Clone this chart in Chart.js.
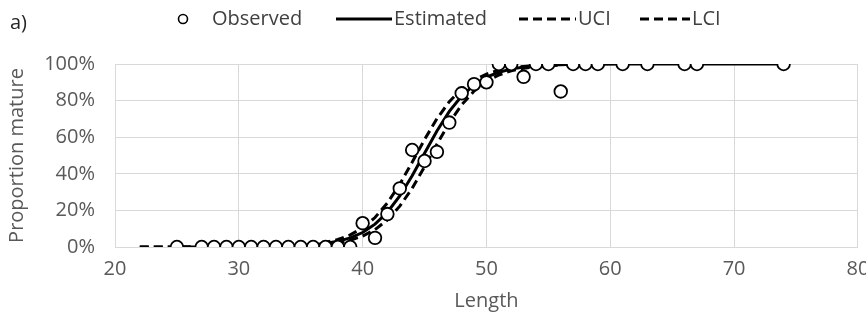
<!DOCTYPE html>
<html lang="en">
<head>
<meta charset="UTF-8">
<title>Proportion mature by length</title>
<script src="https://cdn.jsdelivr.net/npm/chart.js"></script>
<style>
  html, body { margin: 0; padding: 0; background: #fff; }
  #wrap { position: relative; width: 866px; height: 327px; }
</style>
</head>
<body>
<div id="wrap"><canvas id="maturityChart"></canvas></div>
<script>
// observed proportion mature per length class
const obsLength = [25, 27, 28, 29, 30, 31, 32, 33, 34, 35, 36, 37, 38, 39,
  40, 41, 42, 43, 44, 45, 46, 47, 48, 49, 50,
  51, 52, 53, 54, 55, 56, 57, 58, 59, 61, 63, 66, 67, 74];
const obsMature = [0, 0, 0, 0, 0, 0, 0, 0, 0, 0, 0, 0, 0, 0,
  0.13, 0.05, 0.18, 0.32, 0.53, 0.47, 0.52, 0.68, 0.84, 0.89, 0.90,
  1, 1, 0.93, 1, 1, 0.85, 1, 1, 1, 1, 1, 1, 1, 1];

// fitted ogive, read at the observed lengths
const estMature = [0, 0, 0, 0, 0.001, 0.001, 0.002, 0.003, 0.004, 0.007, 0.012, 0.019, 0.031, 0.050,
  0.079, 0.125, 0.190, 0.279, 0.389, 0.512, 0.634, 0.741, 0.825, 0.886, 0.928,
  0.955, 0.972, 0.983, 0.990, 0.994, 0.996, 0.998, 0.999, 0.999, 1, 1, 1, 1, 1];

// confidence bounds, lengths 22 to 56
const ciLength = [22, 23, 24, 25, 26, 27, 28, 29, 30, 31, 32, 33, 34, 35, 36, 37, 38, 39,
  40, 41, 42, 43, 44, 45, 46, 47, 48, 49, 50, 51, 52, 53, 54, 55, 56];
const uciMature = [0, 0, 0, 0, 0, 0, 0, 0, 0.001, 0.001, 0.002, 0.004, 0.006, 0.010, 0.016, 0.025, 0.041, 0.066,
  0.104, 0.161, 0.241, 0.343, 0.463, 0.587, 0.701, 0.794, 0.864, 0.913, 0.945, 0.966, 0.979, 0.987, 0.992, 0.995, 0.997];
const lciMature = [0, 0, 0, 0, 0, 0, 0, 0, 0, 0.001, 0.001, 0.002, 0.003, 0.005, 0.009, 0.014, 0.023, 0.037,
  0.060, 0.095, 0.148, 0.223, 0.321, 0.438, 0.562, 0.679, 0.777, 0.852, 0.905, 0.940, 0.963, 0.977, 0.986, 0.991, 0.994];

const xTicks = [20, 30, 40, 50, 60, 70, 80];
const yTicks = [0, 0.2, 0.4, 0.6, 0.8, 1];

const FONT = '"Open Sans", sans-serif';
const TEXT = '#595959';
const GRID = '#d9d9d9';

const pairs = (xs, ys) => xs.map((x, i) => ({ x: x, y: ys[i] }));

// legend across the top (symbol start, text start per entry), plus the panel tag
const legendSlots = [[183, 212], [336, 394], [519, 578], [640, 692]];

const topLegend = {
  id: 'topLegend',
  afterDraw(chart) {
    const ctx = chart.ctx;
    const y = 19;
    ctx.save();
    ctx.font = '20px ' + FONT;
    ctx.textBaseline = 'middle';
    ctx.fillStyle = '#262626';
    ctx.fillText('a)', 10, 23);

    chart.data.datasets.forEach((ds, i) => {
      const [sx, tx] = legendSlots[i];
      ctx.strokeStyle = '#000';
      if (ds.showLine === false) {
        ctx.beginPath();
        ctx.arc(sx, y, 4.5, 0, Math.PI * 2);
        ctx.fillStyle = '#fff';
        ctx.fill();
        ctx.lineWidth = 1.6;
        ctx.stroke();
      } else {
        ctx.beginPath();
        ctx.setLineDash(ds.borderDash || []);
        ctx.lineWidth = ds.borderWidth;
        ctx.moveTo(sx, y);
        ctx.lineTo(tx - 2, y);
        ctx.stroke();
        ctx.setLineDash([]);
      }
      ctx.fillStyle = '#404040';
      ctx.fillText(ds.label, tx, y);
    });
    ctx.restore();
  }
};

new Chart(document.getElementById('maturityChart'), {
  type: 'scatter',
  data: {
    datasets: [{
      label: 'Observed',
      data: pairs(obsLength, obsMature),
      showLine: false,
      pointStyle: 'circle',
      pointRadius: 6.3,
      pointBorderWidth: 1.8,
      pointBorderColor: '#000',
      pointBackgroundColor: '#fff'
    }, {
      label: 'Estimated',
      data: pairs(obsLength, estMature),
      showLine: true,
      borderColor: '#000',
      borderWidth: 3,
      pointRadius: 0,
      tension: 0
    }, {
      label: 'UCI',
      data: pairs(ciLength, uciMature),
      showLine: true,
      borderColor: '#000',
      borderWidth: 3,
      borderDash: [9, 5],
      pointRadius: 0,
      tension: 0
    }, {
      label: 'LCI',
      data: pairs(ciLength, lciMature),
      showLine: true,
      borderColor: '#000',
      borderWidth: 3,
      borderDash: [9, 5],
      pointRadius: 0,
      tension: 0
    }]
  },
  options: {
    responsive: true,
    maintainAspectRatio: false,
    animation: false,
    layout: { padding: { top: 64, right: 8, bottom: 0, left: 0 } },
    plugins: {
      legend: { display: false },
      tooltip: { enabled: false }
    },
    scales: {
      x: {
        type: 'linear',
        min: 20,
        max: 80,
        afterBuildTicks: s => { s.ticks = xTicks.map(v => ({ value: v })); },
        afterFit: s => { s.height = 80; s.paddingLeft = 0; s.paddingRight = 0; },
        ticks: { color: TEXT, font: { family: FONT, size: 20 }, padding: 10 },
        grid: { color: GRID, lineWidth: 1, drawTicks: false },
        border: { color: GRID },
        title: {
          display: true,
          text: 'Length',
          color: TEXT,
          font: { family: FONT, size: 20 },
          padding: { top: 0, bottom: 14 }
        }
      },
      y: {
        min: 0,
        max: 1,
        afterBuildTicks: s => { s.ticks = yTicks.map(v => ({ value: v })); },
        afterFit: s => { s.width = 115; s.paddingTop = 0; s.paddingBottom = 0; },
        ticks: {
          color: TEXT,
          font: { family: FONT, size: 20 },
          padding: 20,
          callback: v => Math.round(v * 100) + '%'
        },
        grid: { color: GRID, lineWidth: 1, drawTicks: false },
        border: { color: GRID },
        title: {
          display: true,
          text: 'Proportion mature',
          color: TEXT,
          font: { family: FONT, size: 20 },
          padding: { top: 5, bottom: 0 }
        }
      }
    }
  },
  plugins: [topLegend]
});
</script>
</body>
</html>
